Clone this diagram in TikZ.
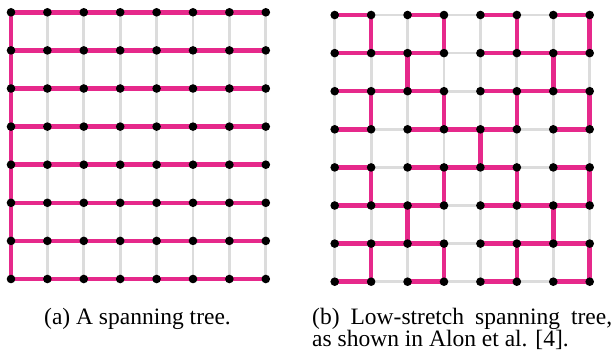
\documentclass[tikz,border=0pt]{standalone}
\usepackage{fontspec}
\setmainfont{Liberation Serif}
\definecolor{treepink}{HTML}{E6298B}
\definecolor{gridgray}{HTML}{DCDCDC}
\begin{document}
\begin{tikzpicture}[x=1pt,y=-1pt,
  gridedge/.style={gridgray,line width=2.8pt},
  treeedge/.style={treepink,line width=4.6pt},
  dotfill/.style={fill=black},
  captext/.style={font=\fontsize{23.5}{22}\selectfont,inner sep=0pt}]
\useasboundingbox (0,0) rectangle (614,353);
% grid points
\foreach \i in {0,...,7}{
  \foreach \j in {0,...,7}{
    \coordinate (a-\i-\j) at ({11+36.4*\i},{12.3+38.1*\j});
    \coordinate (b-\i-\j) at ({334.7+36.43*\i},{15+38.1*\j});
  }
}
% gray grid edges
\foreach \i in {0,...,7}{
  \foreach \j in {0,...,6}{
    \pgfmathtruncatemacro{\k}{\j+1}
    \draw[gridedge] (a-\i-\j) -- (a-\i-\k);
    \draw[gridedge] (a-\j-\i) -- (a-\k-\i);
    \draw[gridedge] (b-\i-\j) -- (b-\i-\k);
    \draw[gridedge] (b-\j-\i) -- (b-\k-\i);
  }
}
% left tree: all rows plus left column
\foreach \j in {0,...,7}{
  \foreach \i in {0,...,6}{
    \pgfmathtruncatemacro{\k}{\i+1}
    \draw[treeedge] (a-\i-\j) -- (a-\k-\j);
  }
}
\foreach \j in {0,...,6}{
  \pgfmathtruncatemacro{\k}{\j+1}
  \draw[treeedge] (a-0-\j) -- (a-0-\k);
}
% right tree: horizontal edges per row
\foreach \r/\lst in {0/{0,2,4,6},1/{0,1,2,4,5,6},2/{0,1,2,4,5,6},3/{0,2,3,4,6},
                     4/{0,2,3,4,6},5/{0,1,2,4,5,6},6/{0,1,2,4,5,6},7/{0,2,4,6}}{
  \foreach \c in \lst {
    \pgfmathtruncatemacro{\d}{\c+1}
    \draw[treeedge] (b-\c-\r) -- (b-\d-\r);
  }
}
% right tree: vertical edges per gap
\foreach \g/\lst in {0/{1,3,5,7},1/{2,6},2/{1,3,5,7},3/{4},4/{1,3,5,7},5/{2,6},6/{1,3,5,7}}{
  \foreach \c in \lst {
    \pgfmathtruncatemacro{\h}{\g+1}
    \draw[treeedge] (b-\c-\g) -- (b-\c-\h);
  }
}
% dots
\foreach \i in {0,...,7}{
  \foreach \j in {0,...,7}{
    \fill[dotfill] (a-\i-\j) circle (4.3);
    \fill[dotfill] (b-\i-\j) circle (4.3);
  }
}
% captions
\node[captext,anchor=base] (capa) at (137.5,324) {(a) A spanning tree.};
\node[captext,anchor=base west] (capb1) at (312,324) {\makebox[300pt][s]{(b) Low-stretch spanning tree,}};
\node[captext,anchor=base west] (capb2) at (312,346) {as shown in Alon et al. [4].};
\end{tikzpicture}
\end{document}
